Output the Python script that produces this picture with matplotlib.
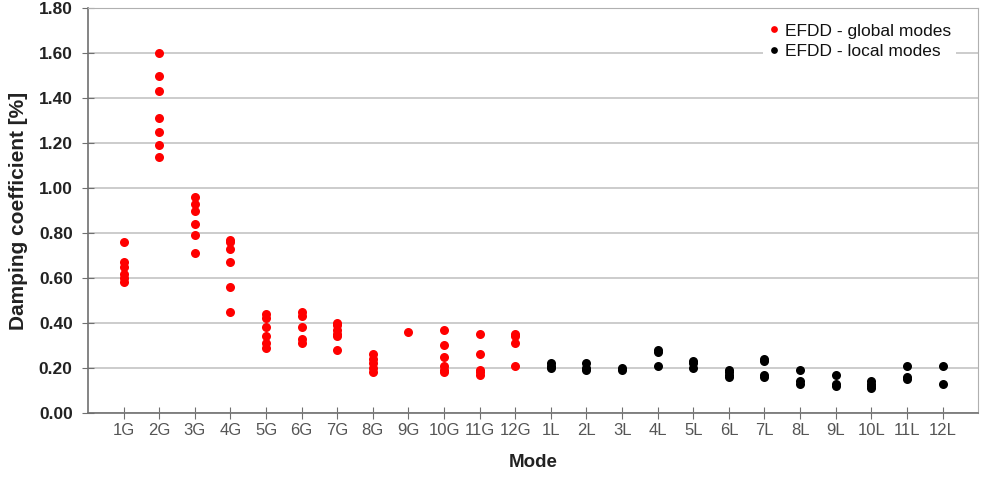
import matplotlib.pyplot as plt
import numpy as np

plt.rcParams['font.family'] = ['Liberation Sans', 'DejaVu Sans']

# Damping values read per mode
global_modes = ['1G', '2G', '3G', '4G', '5G', '6G', '7G', '8G', '9G', '10G', '11G', '12G']
global_vals = [
    [0.76, 0.67, 0.65, 0.62, 0.60, 0.58],
    [1.60, 1.50, 1.43, 1.31, 1.25, 1.19, 1.14],
    [0.96, 0.93, 0.90, 0.84, 0.79, 0.71],
    [0.77, 0.76, 0.73, 0.67, 0.56, 0.45],
    [0.44, 0.42, 0.38, 0.34, 0.31, 0.29],
    [0.45, 0.43, 0.38, 0.33, 0.31],
    [0.40, 0.39, 0.37, 0.35, 0.34, 0.28],
    [0.26, 0.24, 0.22, 0.20, 0.18],
    [0.36],
    [0.37, 0.30, 0.25, 0.21, 0.19, 0.18],
    [0.35, 0.26, 0.19, 0.18, 0.17],
    [0.35, 0.34, 0.31, 0.21],
]
local_modes = ['1L', '2L', '3L', '4L', '5L', '6L', '7L', '8L', '9L', '10L', '11L', '12L']
local_vals = [
    [0.22, 0.21, 0.20],
    [0.22, 0.20, 0.19],
    [0.20, 0.19],
    [0.28, 0.27, 0.21],
    [0.23, 0.22, 0.20],
    [0.19, 0.18, 0.17, 0.16],
    [0.24, 0.23, 0.17, 0.16],
    [0.19, 0.14, 0.13],
    [0.17, 0.13, 0.12],
    [0.14, 0.13, 0.12, 0.11],
    [0.21, 0.16, 0.15],
    [0.21, 0.13],
]

modes = global_modes + local_modes

fig = plt.figure(figsize=(9.9, 4.8), dpi=100)
ax = fig.add_axes([0.0889, 0.1396, 0.8991, 0.8437])

gx, gy = [], []
for i, v in enumerate(global_vals):
    gx += [i + 1] * len(v)
    gy += v
lx, ly = [], []
for i, v in enumerate(local_vals):
    lx += [len(global_modes) + i + 1] * len(v)
    ly += v

ax.plot(gx, gy, 'o', color='#ff0000', markersize=6.5, markeredgewidth=0,
        label='EFDD - global modes', zorder=3)
ax.plot(lx, ly, 'o', color='black', markersize=6.5, markeredgewidth=0,
        label='EFDD - local modes', zorder=3)

ax.set_xlim(0, len(modes) + 1)
ax.set_ylim(0, 1.8)
ax.set_xticks(np.arange(1, len(modes) + 1))
ax.set_xticklabels(modes)
ax.set_yticks(np.arange(0, 1.81, 0.2))
ax.set_yticklabels(['%.2f' % t for t in np.arange(0, 1.81, 0.2)])
ax.yaxis.grid(True, color='#c8c8c8', linewidth=1.3)
ax.set_axisbelow(True)

for s in ['top', 'right']:
    ax.spines[s].set_color('#b0b0b0')
for s in ['left', 'bottom']:
    ax.spines[s].set_color('#707070')
    ax.spines[s].set_linewidth(1.2)

ax.tick_params(axis='x', direction='inout', length=9, color='#707070',
               labelsize=12, labelcolor='#555555', pad=3)
ax.tick_params(axis='y', direction='inout', length=8, color='#707070',
               labelsize=12.5, labelcolor='#222222', pad=7)
for t in ax.get_yticklabels():
    t.set_fontweight('bold')

ax.set_xlabel('Mode', fontsize=13.5, fontweight='bold', color='#222222', labelpad=11)
ax.set_ylabel('Damping coefficient [%]', fontsize=15, fontweight='bold',
              color='#222222', labelpad=8)

leg = ax.legend(loc='upper right', bbox_to_anchor=(0.975, 0.975), frameon=True,
                fontsize=12.5, markerscale=0.75, handletextpad=0.25,
                handlelength=0.7, labelspacing=0.3, borderpad=0.3,
                borderaxespad=0)
leg.get_frame().set_edgecolor('none')
leg.get_frame().set_facecolor('white')
leg.get_frame().set_alpha(1)
for t in leg.get_texts():
    t.set_color('#111111')

fig.savefig('out.png', dpi=100)
